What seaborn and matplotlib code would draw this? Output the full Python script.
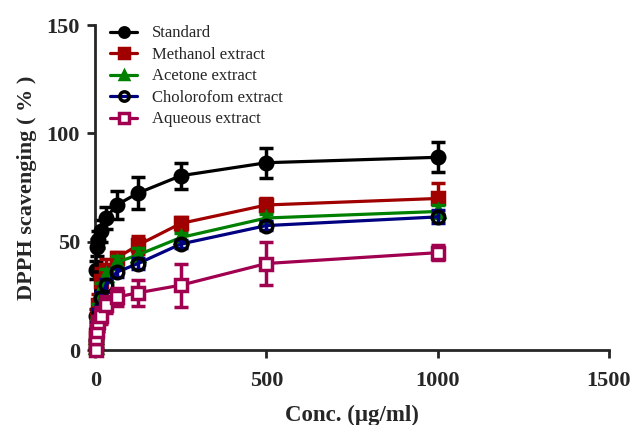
import pandas as pd
import matplotlib
matplotlib.use('Agg')
import matplotlib.pyplot as plt
import seaborn as sns
import numpy as np

conc = [0.98, 1.95, 3.9, 7.8, 15.62, 31.25, 62.5, 125, 250, 500, 1000]

standard = [16, 37, 47.5, 51, 55, 61, 67, 72.5, 80.5, 86.5, 89]
standard_err = [3, 4, 4, 4, 5, 5, 6.5, 7.5, 6, 7, 7]
methanol = [2, 7, 14, 21, 32, 37, 42.5, 48.5, 58.5, 67, 70]
methanol_err = [2, 4, 5, 5, 6, 5, 3, 4, 3, 3, 7]
acetone = [1.4, 6, 11.5, 18.5, 28, 34.5, 40.5, 44, 52, 61, 64]
acetone_err = [2, 3, 3, 3, 3, 3, 3, 3, 2, 2, 3]
chloro = [1, 4.5, 10, 16, 24, 30, 36, 40, 49, 57.5, 61.5]
chloro_err = [2, 3, 3, 3, 3, 3, 2, 2.5, 2, 2, 3]
aqueous = [0, 5.5, 9, 13, 16, 21, 24.5, 26.5, 30, 40, 45]
aqueous_err = [2, 3, 3, 3, 4, 4, 4, 6, 10, 10, 3.5]

names = ['Standard', 'Methanol extract', 'Acetone extract', 'Cholorofom extract', 'Aqueous extract']
values = [standard, methanol, acetone, chloro, aqueous]
errs = [standard_err, methanol_err, acetone_err, chloro_err, aqueous_err]
line_colors = ['black', '#A00000', '#008000', '#000080', '#A0004F']
err_colors = ['black', '#A00000', '#008000', '#000080', '#A0004F']
markers = ['o', 's', '^', 'o', 's']
face = ['black', '#A00000', '#008000', 'none', 'white']
edge = ['black', '#A00000', '#008000', 'black', '#A0004F']

sns.set_style('ticks')
plt.rcParams['font.family'] = ['Liberation Serif', 'DejaVu Serif']

fig = plt.figure(figsize=(6.35, 4.25), dpi=100)
ax = fig.add_axes([0.150, 0.176, 0.809, 0.765])

for i in range(5):
    d = pd.DataFrame({'conc': conc, 'val': values[i]})
    eb = ax.errorbar(conc, values[i], yerr=errs[i], fmt='none', ecolor=err_colors[i],
                     elinewidth=2.5, capsize=5, capthick=2.5, zorder=2 + i)
    for part in eb.lines[1] + eb.lines[2]:
        part.set_clip_on(False)
    sns.lineplot(data=d, x='conc', y='val', ax=ax, color=line_colors[i], linewidth=2.3,
                 marker=markers[i], markersize=9 if markers[i] != '^' else 8,
                 markerfacecolor=face[i], markeredgecolor=edge[i], markeredgewidth=2.5,
                 label=names[i], zorder=3 + i, clip_on=False)

ax.set_xlim(0, 1500)
ax.set_ylim(0, 150)
ax.set_xticks([0, 500, 1000, 1500])
ax.set_yticks([0, 50, 100, 150])
for lab in ax.get_xticklabels() + ax.get_yticklabels():
    lab.set_fontweight('bold')
    lab.set_fontsize(16)
ax.tick_params(width=2, length=6)
ax.tick_params(axis='x', pad=9)
ax.tick_params(axis='y', pad=5)
for s in ['left', 'bottom']:
    ax.spines[s].set_linewidth(2)
sns.despine(ax=ax)
ax.set_xlabel('Conc. (μg/ml)', fontsize=16.5, fontweight='bold', labelpad=10)
ax.set_ylabel('DPPH scavenging ( % )', fontsize=16, fontweight='bold', labelpad=7)

leg = ax.legend(loc='upper left', bbox_to_anchor=(0.0, 1.045), frameon=False,
                fontsize=12, handlelength=1.6, handletextpad=0.9,
                labelspacing=0.33, markerscale=0.75)

fig.savefig('out.png', dpi=100)
